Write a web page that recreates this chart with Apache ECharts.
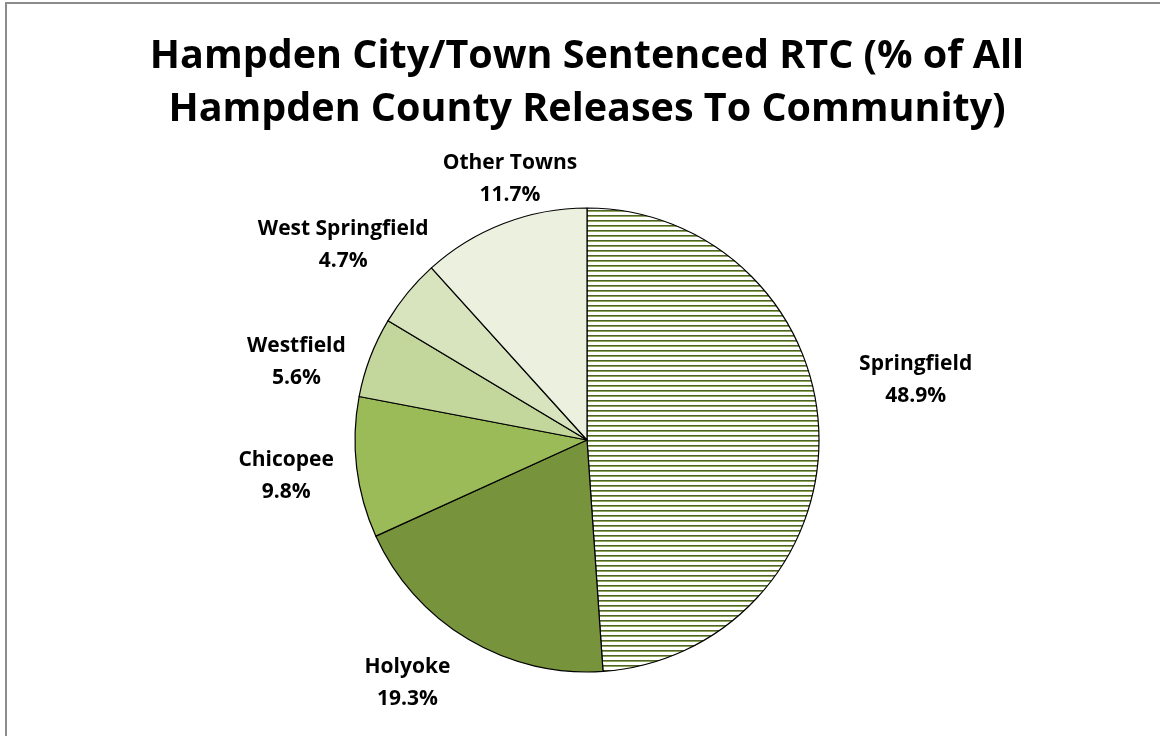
<!DOCTYPE html>
<html>
<head>
<meta charset="utf-8">
<script src="https://cdn.jsdelivr.net/npm/echarts@6/dist/echarts.min.js"></script>
<style>
  html, body { margin: 0; padding: 0; background: #fff; }
  #chart { width: 1160px; height: 736px; }
</style>
</head>
<body>
<div id="chart"></div>
<script>
// Share of all Hampden County releases to the community, by city/town
const towns = ['Springfield', 'Holyoke', 'Chicopee', 'Westfield', 'West Springfield', 'Other Towns'];
const shares = [48.9, 19.3, 9.8, 5.6, 4.7, 11.7];
const sliceColors = [null, '#77933c', '#9bbb59', '#c3d69b', '#d7e4bd', '#ebf1de'];

const chartTitle = 'Hampden City/Town Sentenced RTC (% of All\nHampden County Releases To Community)';

// Pie geometry (px)
const CX = 587, CY = 440, R = 232;
// Label placement: [distance of label centre beyond the rim, angular nudge in degrees]
const labelPlacement = {
  'Springfield': [102, -8.3],
  'Holyoke': [70, 5.7],
  'Chicopee': [71, 0],
  'Westfield': [69, -5.8],
  'West Springfield': [80, -0.8],
  'Other Towns': [40, 4.6]
};

// Horizontal hatch used for the Springfield slice
function hatchPattern() {
  const c = document.createElement('canvas');
  c.width = 8; c.height = 5;
  const g = c.getContext('2d');
  g.fillStyle = '#ffffff';
  g.fillRect(0, 0, 8, 5);
  g.fillStyle = '#4f6228';
  g.fillRect(0, 0, 8, 1);
  g.fillStyle = '#8ea65a';
  g.fillRect(0, 1, 8, 1);
  return c;
}

const total = shares.reduce((a, b) => a + b, 0);
const midAngles = [];
let acc = 0;
shares.forEach(v => { midAngles.push(((acc + v / 2) / total) * 2 * Math.PI); acc += v; });

const pieData = towns.map((name, i) => ({
  name,
  value: shares[i],
  itemStyle: {
    color: i === 0 ? { image: hatchPattern(), repeat: 'repeat' } : sliceColors[i]
  }
}));

const chart = echarts.init(document.getElementById('chart'), null, { renderer: 'canvas' });
chart.setOption({
  backgroundColor: '#ffffff',
  animation: false,
  title: {
    text: chartTitle,
    left: 582,
    top: 25,
    textAlign: 'center',
    textStyle: {
      fontFamily: 'Open Sans',
      fontWeight: 'bold',
      fontSize: 39.5,
      lineHeight: 53,
      color: '#000'
    }
  },
  graphic: [{
    type: 'polyline',
    shape: { points: [[6, 740], [6, 3], [1170, 3]] },
    style: { stroke: '#8c8c8c', lineWidth: 2, fill: null },
    silent: true
  }],
  series: [{
    type: 'pie',
    center: [CX, CY],
    radius: [0, R],
    startAngle: 90,
    clockwise: true,
    data: pieData,
    itemStyle: { borderColor: '#000', borderWidth: 1.2 },
    emphasis: { disabled: true },
    label: {
      show: true,
      position: 'outside',
      formatter: p => p.name + '\n' + p.value.toFixed(1) + '%',
      fontFamily: 'Open Sans',
      fontWeight: 'bold',
      fontSize: 21,
      lineHeight: 32,
      color: '#000',
      align: 'center'
    },
    labelLine: { show: false },
    labelLayout: params => {
      const i = params.dataIndex;
      const [reach, nudge] = labelPlacement[towns[i]];
      const a = midAngles[i] + nudge * Math.PI / 180;
      const d = R + reach;
      return {
        x: CX + d * Math.sin(a),
        y: CY - d * Math.cos(a),
        align: 'center',
        verticalAlign: 'middle'
      };
    }
  }]
});
</script>
</body>
</html>
